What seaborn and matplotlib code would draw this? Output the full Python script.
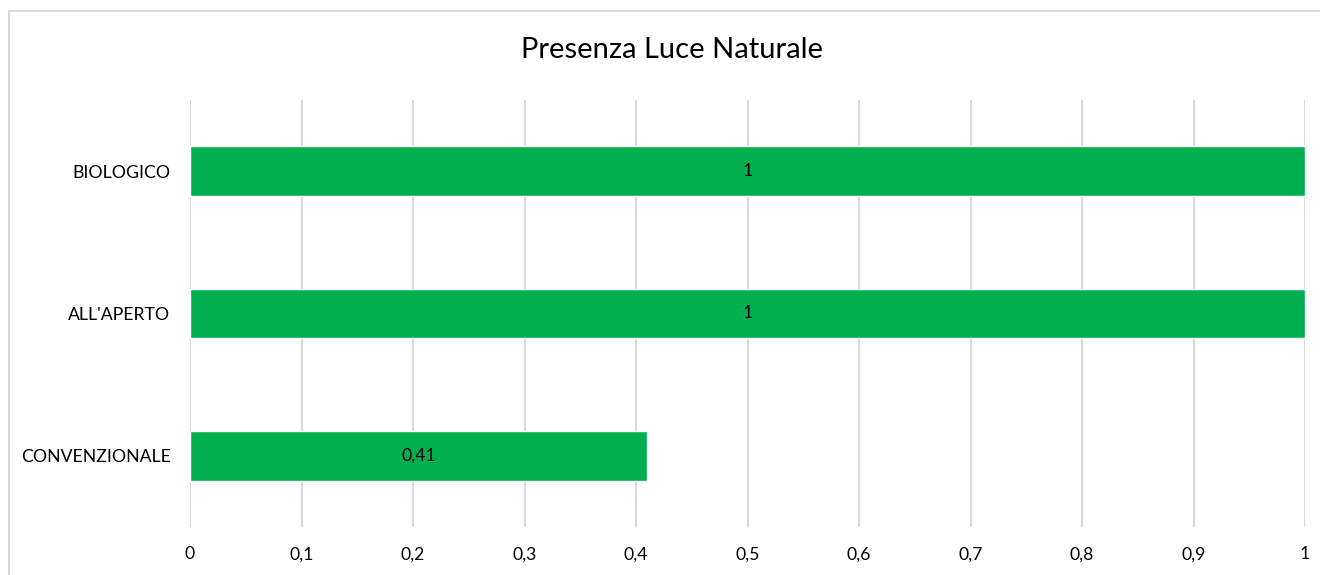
import matplotlib
matplotlib.use("Agg")
import matplotlib.pyplot as plt
import seaborn as sns
import pandas as pd
from matplotlib.patches import Rectangle
from matplotlib.ticker import FuncFormatter

categories = ["BIOLOGICO", "ALL'APERTO", "CONVENZIONALE"]
values = [1, 1, 0.41]
x_ticks = [0, 0.1, 0.2, 0.3, 0.4, 0.5, 0.6, 0.7, 0.8, 0.9, 1]

sns.set_theme(style="white")
plt.rcParams['font.family'] = ['Lato', 'DejaVu Sans']

df = pd.DataFrame({"cat": categories, "val": values})

fig = plt.figure(figsize=(13.2, 5.75), dpi=100)
ax = fig.add_axes([190/1320, 1-527/575, (1305-190)/1320, (527-100)/575])

sns.barplot(data=df, y="cat", x="val", orient="h", color="#00B050",
            width=0.35, saturation=1, ax=ax, order=categories)

def fmt(v):
    s = f"{v:g}"
    return s.replace(".", ",")

for c in ax.containers:
    ax.bar_label(c, labels=[fmt(v) for v in c.datavalues], label_type="center",
                 fontsize=12.7, color="#000000")

ax.set_xlim(0, 1)
ax.set_ylim(2.5, -0.5)
ax.set_xticks(x_ticks)
ax.xaxis.set_major_formatter(FuncFormatter(lambda v, p: fmt(round(v, 2))))
ax.grid(axis="x", color="#D9D9D9", linewidth=1.5)
ax.set_axisbelow(True)
for s in ax.spines.values():
    s.set_visible(False)
ax.tick_params(axis="both", length=0, labelsize=12.7, colors="#000000")
ax.tick_params(axis="y", pad=14)
ax.tick_params(axis="x", pad=14)
ax.set_xlabel("")
ax.set_ylabel("")

fig.text(672/1320, 1-50/575, "Presenza Luce Naturale", ha="center", va="center",
         fontsize=21, color="#000000")

fig.patches.append(Rectangle((9/1320, -0.1), 1.2, 1-11/575+0.1, transform=fig.transFigure,
                             fill=False, edgecolor="#D9D9D9", linewidth=1.5, zorder=0))

fig.savefig("out.png", dpi=100)
